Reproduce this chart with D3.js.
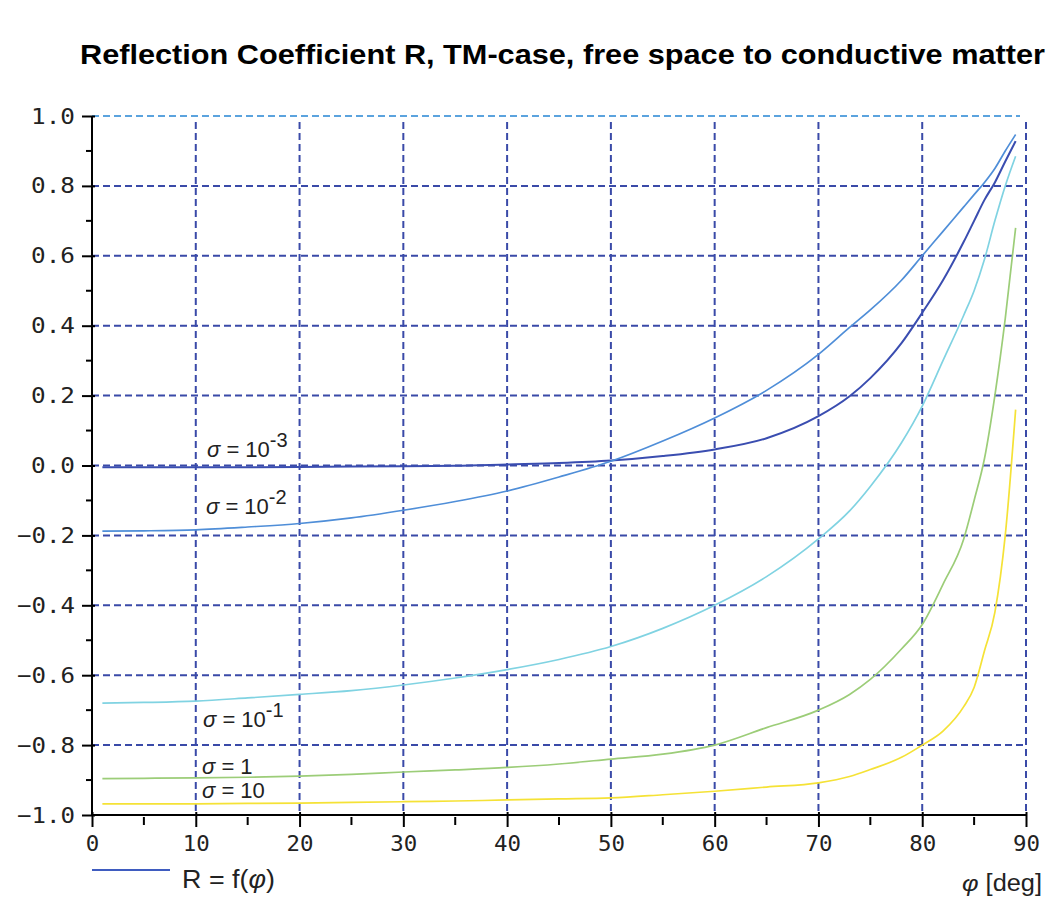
<!DOCTYPE html>
<html>
<head>
<meta charset="utf-8">
<script src="https://cdn.jsdelivr.net/npm/d3@7"></script>
<style>
  html, body { margin: 0; padding: 0; background: #fff; }
  svg { display: block; }
</style>
</head>
<body>
<svg id="chart" width="1055" height="897"></svg>
<script>
// ---------------- DATA ----------------
const title = "Reflection Coefficient R, TM-case, free space to conductive matter";
const angles = [1, 5, 10, 15, 20, 25, 30, 35, 40, 45, 50, 55, 60, 65, 70, 73, 75, 78, 80, 82, 84, 85, 86, 87, 88, 89];
const sigma1e3 = [-0.005, -0.005, -0.005, -0.005, -0.004, -0.003, -0.002, -0.001, 0.003, 0.007, 0.014, 0.027, 0.046, 0.078, 0.141, 0.198, 0.25, 0.35, 0.437, 0.53, 0.64, 0.70, 0.76, 0.81, 0.87, 0.928];
const sigma1e2 = [-0.188, -0.187, -0.184, -0.176, -0.166, -0.15, -0.128, -0.103, -0.073, -0.033, 0.012, 0.07, 0.136, 0.215, 0.318, 0.395, 0.445, 0.53, 0.60, 0.67, 0.74, 0.775, 0.81, 0.85, 0.90, 0.947];
const sigma1e1 = [-0.68, -0.678, -0.674, -0.665, -0.655, -0.644, -0.628, -0.608, -0.584, -0.555, -0.518, -0.466, -0.40, -0.318, -0.21, -0.13, -0.06, 0.065, 0.17, 0.30, 0.43, 0.50, 0.59, 0.70, 0.80, 0.885];
const sigma1 = [-0.896, -0.895, -0.894, -0.892, -0.889, -0.884, -0.877, -0.871, -0.864, -0.854, -0.84, -0.826, -0.80, -0.75, -0.70, -0.655, -0.612, -0.525, -0.455, -0.34, -0.21, -0.10, 0.02, 0.2, 0.42, 0.68];
const sigma10 = [-0.968, -0.968, -0.968, -0.967, -0.966, -0.964, -0.962, -0.96, -0.957, -0.954, -0.951, -0.942, -0.932, -0.92, -0.908, -0.89, -0.87, -0.835, -0.80, -0.76, -0.69, -0.635, -0.53, -0.42, -0.2, 0.16];
const xTicks = [0, 10, 20, 30, 40, 50, 60, 70, 80, 90];
const yTicks = [-1.0, -0.8, -0.6, -0.4, -0.2, 0.0, 0.2, 0.4, 0.6, 0.8, 1.0];
const seriesLabels = [
  { base: "10", sup: "-3" },
  { base: "10", sup: "-2" },
  { base: "10", sup: "-1" },
  { base: "1", sup: "" },
  { base: "10", sup: "" }
];
const legendLabel = ["R = f(", "φ", ")"];
const xAxisLabel = ["φ", " [deg]"];

// ---------------- LAYOUT / STYLE ----------------
const svg = d3.select("#chart");
const X0 = 92, X1 = 1026, Y0 = 815, Y1 = 116;
const x = d3.scaleLinear().domain([0, 90]).range([X0, X1]);
const y = d3.scaleLinear().domain([-1, 1]).range([Y0, Y1]);
const gridColor = "#3a4aa8";
const colors = ["#3a4db0", "#4f8ed8", "#80d3e2", "#9ccd78", "#f5e236"];
const series = [sigma1e3, sigma1e2, sigma1e1, sigma1, sigma10];
const labelOffsets = [[207, 457], [206, 514], [203, 727], [202, 774], [202, 798]];
const sansFont = "'Liberation Sans', Arial, sans-serif";

// Title
svg.append("text")
  .attr("x", 80).attr("y", 64)
  .attr("font-family", sansFont)
  .attr("font-weight", "bold")
  .attr("font-size", 28)
  .attr("textLength", 965)
  .attr("lengthAdjust", "spacingAndGlyphs")
  .attr("fill", "#000")
  .text(title);

// Grid
const grid = svg.append("g");
grid.selectAll("line.v").data(xTicks.filter(d => d > 0)).join("line")
  .attr("x1", d => x(d)).attr("x2", d => x(d))
  .attr("y1", y(1) + 6).attr("y2", Y0)
  .attr("stroke", gridColor).attr("stroke-width", 2)
  .attr("stroke-dasharray", "7,4");
grid.selectAll("line.h").data(yTicks.filter(d => d > -1)).join("line")
  .attr("x1", X0).attr("x2", d => d === 1 ? X1 - 6 : X1)
  .attr("y1", d => y(d)).attr("y2", d => y(d))
  .attr("stroke", d => d === 1 ? "#5ba3de" : gridColor).attr("stroke-width", 2)
  .attr("stroke-dasharray", "7,4");

// Curves
const line = d3.line()
  .x((d, i) => x(angles[i]))
  .y(d => y(d))
  .curve(d3.curveMonotoneX);
svg.append("g").selectAll("path").data(series).join("path")
  .attr("d", d => line(d))
  .attr("fill", "none")
  .attr("stroke", (d, i) => colors[i])
  .attr("stroke-width", (d, i) => i === 0 ? 2 : 1.7);

// Axes
const tickFont = "'DejaVu Sans Mono', monospace";
const yAxis = svg.append("g").attr("transform", `translate(${X0},0)`)
  .call(d3.axisLeft(y).tickValues(yTicks).tickSize(10).tickPadding(0).tickFormat(d3.format(".1f")));
yAxis.select(".domain").attr("stroke", "#000").attr("stroke-width", 2).attr("d", `M0,${Y1}V${Y0}`);
yAxis.selectAll(".tick line").attr("x1", 3).attr("x2", -10).attr("stroke", "#000").attr("stroke-width", 2);
yAxis.selectAll(".tick text")
  .attr("x", -17)
  .attr("font-family", tickFont).attr("font-size", 22).attr("fill", "#222")
  .attr("textLength", d => d < 0 ? 58 : 44)
  .attr("lengthAdjust", "spacingAndGlyphs");
yAxis.selectAll("line.minor").data(d3.range(-0.9, 1.0, 0.2)).join("line")
  .attr("x1", 0).attr("x2", -6).attr("y1", d => y(d)).attr("y2", d => y(d))
  .attr("stroke", "#000").attr("stroke-width", 2);

const xAxis = svg.append("g").attr("transform", `translate(0,${Y0})`)
  .call(d3.axisBottom(x).tickValues(xTicks).tickSize(12).tickPadding(8).tickFormat(d3.format("d")));
xAxis.select(".domain").attr("stroke", "#000").attr("stroke-width", 2).attr("d", `M${X0},0H${X1}`);
xAxis.selectAll(".tick line").attr("y1", -3).attr("y2", 12).attr("stroke", "#000").attr("stroke-width", 2);
xAxis.selectAll(".tick text")
  .attr("font-family", tickFont).attr("font-size", 22).attr("fill", "#222")
  .attr("textLength", d => String(d).length * 13.5)
  .attr("lengthAdjust", "spacingAndGlyphs");
xAxis.selectAll("line.minor").data(d3.range(5, 90, 10)).join("line")
  .attr("x1", d => x(d)).attr("x2", d => x(d)).attr("y1", 2).attr("y2", 10)
  .attr("stroke", "#000").attr("stroke-width", 2);

// Series labels
const lab = svg.append("g")
  .attr("font-family", sansFont)
  .attr("font-size", 22).attr("fill", "#222");
seriesLabels.forEach((s, i) => {
  const t = lab.append("text").attr("x", labelOffsets[i][0]).attr("y", labelOffsets[i][1]);
  t.append("tspan").attr("font-style", "italic").text("σ");
  t.append("tspan").text(" = " + s.base);
  if (s.sup) t.append("tspan").attr("dy", -10).attr("font-size", 20).text(s.sup);
});

// Legend
svg.append("line")
  .attr("x1", 92).attr("x2", 170).attr("y1", 870).attr("y2", 870)
  .attr("stroke", "#3f5cc0").attr("stroke-width", 2);
const lt = svg.append("text").attr("x", 182).attr("y", 888)
  .attr("font-family", sansFont)
  .attr("font-size", 25).attr("fill", "#222")
  .attr("textLength", 93).attr("lengthAdjust", "spacingAndGlyphs");
lt.append("tspan").text(legendLabel[0]);
lt.append("tspan").attr("font-style", "italic").text(legendLabel[1]);
lt.append("tspan").text(legendLabel[2]);

const xl = svg.append("text").attr("x", 962).attr("y", 891)
  .attr("font-family", sansFont)
  .attr("font-size", 23).attr("fill", "#222")
  .attr("textLength", 80).attr("lengthAdjust", "spacingAndGlyphs");
xl.append("tspan").attr("font-style", "italic").text(xAxisLabel[0]);
xl.append("tspan").text(xAxisLabel[1]);
</script>
</body>
</html>
